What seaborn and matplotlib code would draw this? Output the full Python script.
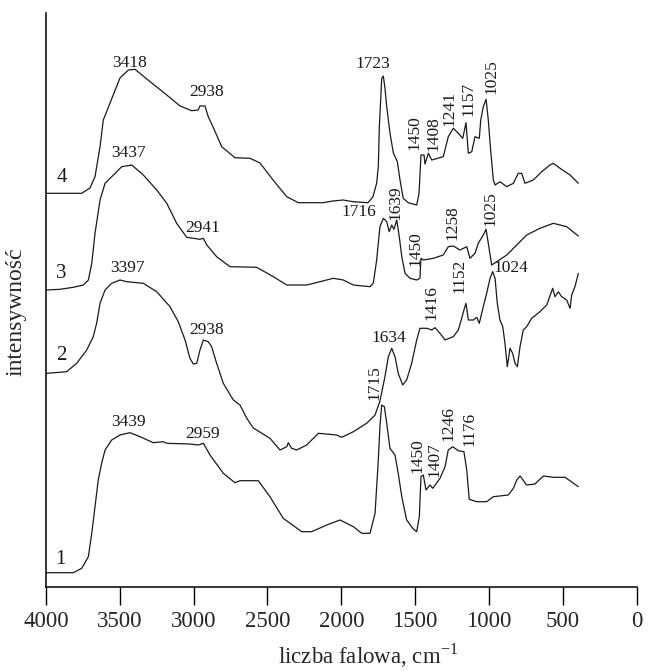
import matplotlib
matplotlib.use("Agg")
import matplotlib.pyplot as plt
import seaborn as sns
import pandas as pd

# ---------------- data (wavenumber cm^-1, intensity in arbitrary units) ----------------
w4 = [3995, 3758, 3702, 3668, 3634, 3612, 3566, 3499, 3442, 3397, 3295, 3182, 3092, 3013, 2970,
      2957, 2923, 2901, 2869, 2810, 2720, 2618, 2550, 2462, 2369, 2291, 2124, 2056, 1988, 1920,
      1819, 1785, 1760, 1749, 1742, 1733, 1726, 1715, 1704, 1692, 1670, 1647, 1620, 1602, 1580,
      1546, 1489, 1473, 1460, 1439, 1433, 1410, 1387, 1309, 1275, 1241, 1207, 1177, 1155, 1139,
      1116, 1094, 1065, 1055, 1038, 1019, 1004, 988, 970, 958, 925, 879, 834, 801, 778, 755, 699,
      642, 586, 563, 518, 450, 394]
i4 = [393.7, 393.7, 399, 410.3, 440.3, 467, 484, 509, 517, 517.7, 505.3, 492, 481, 476.3, 477,
      481, 481, 470.3, 460.3, 440.3, 429.3, 428.7, 424, 407, 390.3, 384.3, 384.3, 386, 387, 385.3,
      384.3, 390.3, 404, 420.3, 460.3, 487, 508.7, 511, 499, 480.3, 454, 434, 425.3, 407, 388.7,
      384.3, 382, 393.7, 432, 432, 423, 433.7, 427, 430.3, 450.3, 458.7, 453.7, 448.7, 464.3, 433.7,
      435.3, 450.3, 448.7, 467, 480.3, 487.7, 467, 437, 407, 402, 405.3, 400.3, 403.7, 413.7, 413.7,
      403.7, 407, 415.3, 422, 423.7, 418.7, 412, 403.7]

w3 = [3995, 3905, 3815, 3747, 3713, 3690, 3668, 3634, 3600, 3555, 3487, 3419, 3341, 3250, 3182,
      3115, 3047, 2957, 2934, 2911, 2844, 2754, 2573, 2460, 2369, 2234, 2144, 2054, 1986, 1918,
      1805, 1783, 1760, 1738, 1715, 1692, 1675, 1658, 1643, 1624, 1607, 1590, 1568, 1534, 1489,
      1467, 1460, 1444, 1376, 1309, 1275, 1241, 1196, 1150, 1128, 1094, 1072, 1038, 1019, 1004,
      981, 879, 811, 744, 654, 563, 473, 394]
i3 = [297, 297.7, 299.7, 302, 307, 323.7, 353.7, 387, 403.7, 410.3, 420.3, 422, 412, 397, 383.7,
      363.7, 349.7, 347.7, 348.7, 342, 330.3, 320.3, 319.7, 310.3, 302, 302, 305.3, 308.7, 307, 302,
      300.3, 303.7, 327, 360.3, 368.7, 365.3, 355.3, 362, 357.7, 367, 350.3, 330.3, 313.7, 308.7, 307,
      308.7, 328.7, 327, 328.7, 332, 340.3, 341, 337, 340.3, 328.7, 333.7, 343.7, 352, 357.7, 343.7,
      322, 332, 342, 352, 358.7, 363.7, 360.3, 351]

w2 = [3995, 3860, 3792, 3724, 3680, 3657, 3634, 3600, 3555, 3499, 3453, 3341, 3250, 3160, 3104,
      3058, 3025, 3002, 2979, 2957, 2934, 2901, 2878, 2844, 2799, 2731, 2686, 2640, 2596, 2483,
      2415, 2369, 2359, 2336, 2302, 2234, 2155, 2031, 1997, 1918, 1828, 1771, 1738, 1704, 1681,
      1658, 1636, 1614, 1584, 1557, 1523, 1489, 1467, 1421, 1387, 1365, 1331, 1297, 1241, 1207,
      1184, 1169, 1155, 1139, 1105, 1082, 1065, 1038, 1015, 992, 974, 958, 943, 925, 906, 891, 875,
      857, 839, 823, 807, 789, 767, 744, 710, 654, 608, 568, 552, 530, 507, 473, 450, 439, 417, 405,
      394]
i2 = [213.7, 215.3, 223.7, 237, 250.3, 263.7, 283.7, 297, 303.7, 307, 305.3, 303.7, 295.3, 280.3,
      265.3, 247, 228.7, 223, 223.7, 237, 247, 245.3, 240.3, 223.7, 203.7, 187, 182, 168.7, 159,
      148.7, 137, 140.3, 144.3, 138.7, 137, 142, 153.7, 152, 149.7, 155.3, 163.7, 172, 186, 210.3,
      230.3, 238.7, 230.3, 213.7, 202, 207, 223.7, 247, 258.7, 258.7, 257, 259.3, 253.7, 247, 250.3,
      257, 268.7, 277, 283.7, 267, 267, 269.7, 263.7, 280.3, 293.7, 308.7, 315.3, 308.7, 283.7, 267,
      260.3, 243.7, 220.3, 238.7, 233.7, 223.7, 220.3, 240.3, 257, 260.3, 268.7, 275.3, 282, 298.7,
      290.3, 295.3, 290.3, 287, 278.7, 292, 300.3, 307, 313.7]

w1 = [3995, 3815, 3758, 3713, 3690, 3668, 3646, 3623, 3600, 3555, 3499, 3431, 3363, 3273, 3205,
      3182, 3025, 2968, 2934, 2889, 2799, 2720, 2686, 2562, 2483, 2393, 2268, 2200, 2099, 2008,
      1918, 1861, 1805, 1771, 1749, 1738, 1726, 1708, 1692, 1670, 1636, 1614, 1590, 1557, 1516,
      1489, 1471, 1460, 1444, 1426, 1399, 1380, 1331, 1297, 1275, 1245, 1207, 1169, 1150, 1133,
      1082, 1015, 970, 868, 834, 811, 789, 744, 688, 631, 563, 484, 394]
i1 = [14.3, 14.3, 18.7, 30.3, 53.7, 80.3, 107, 123.7, 137, 147, 152, 154.3, 150.3, 144.3, 145.3,
      143.7, 143, 142, 143.7, 132, 113.7, 104.3, 106.3, 106.3, 90.3, 68.7, 55.3, 55.3, 62, 67, 60.3,
      53.7, 53.7, 73.7, 127, 160.3, 182, 180.3, 163.7, 138.7, 132, 113.7, 90.3, 67, 58.7, 55.3, 70.3,
      110.3, 112, 97, 102, 98.7, 108.7, 120.3, 137, 140.3, 136.3, 135.3, 117, 87.7, 85.3, 85.3, 90.3,
      92, 98.7, 107, 111, 102, 103, 111, 109.7, 109.7, 100.3]

series_names = ["1", "2", "3", "4"]
series_w = [w1, w2, w3, w4]
series_i = [i1, i2, i3, i4]

x_ticks = [4000, 3500, 3000, 2500, 2000, 1500, 1000, 500, 0]
x_label = "liczba falowa, cm$^{\\mathregular{-1}}$"
y_label = "intensywność"

# peak annotations: (text, wavenumber position, intensity position, rotation)
peak_labels = [
    ("3418", 3431, 524, 0), ("2938", 2911, 495, 0), ("1723", 1783, 523, 0),
    ("1450", 1507, 454.5, 90), ("1408", 1374, 453.7, 90), ("1241", 1269, 478, 90),
    ("1157", 1135, 488, 90), ("1025", 981, 510.3, 90),
    ("3437", 3438, 434, 0), ("2941", 2937, 359, 0), ("1716", 1880, 374.5, 0),
    ("1639", 1632, 384.5, 90), ("1450", 1500, 338, 90), ("1258", 1245, 364.5, 90),
    ("1025", 990, 378.7, 90),
    ("3397", 3445, 319, 0), ("2938", 2911, 257.3, 0), ("1634", 1679, 249.5, 0),
    ("1416", 1387, 284.5, 90), ("1152", 1196, 311.2, 90), ("1024", 851, 319.5, 0),
    ("3439", 3442, 165.3, 0), ("2959", 2940, 153.3, 0), ("1715", 1775, 204.5, 90),
    ("1450", 1485, 131.2, 90), ("1407", 1372, 127.7, 90), ("1246", 1271, 163, 90),
    ("1176", 1130, 158, 90),
]
# curve numbers: (text, wavenumber position, intensity position)
curve_labels = [("4", 3894, 409), ("3", 3894, 313), ("2", 3894, 231), ("1", 3905, 27)]

# ---------------- build the long table ----------------
rows = []
for name, ws, ins in zip(series_names, series_w, series_i):
    for w, v in zip(ws, ins):
        rows.append({"wavenumber": w, "intensity": v, "trace": name})
df = pd.DataFrame(rows)

sns.set_style("white")
plt.rcParams["font.family"] = ["Liberation Serif", "DejaVu Serif"]
plt.rcParams["mathtext.fontset"] = "custom"
plt.rcParams["mathtext.rm"] = "Liberation Serif"

fig = plt.figure(figsize=(6.49, 6.71), dpi=100)
ax = fig.add_axes([46 / 649, 1 - 587 / 671, 590.5 / 649, 574 / 671])

sns.lineplot(data=df, x="wavenumber", y="intensity", hue="trace", units="trace",
             estimator=None, sort=False, palette=["#1a1a1a"] * 4, linewidth=0.9,
             legend=False, ax=ax)

ax.set_xlim(4000, 0)
ax.set_ylim(0, 574)
ax.set_xticks(x_ticks)
ax.set_xticklabels([str(t) for t in x_ticks])
ax.set_yticks([])
ax.tick_params(axis="x", direction="out", length=13, width=1, color="black",
               labelsize=16.5, pad=4, bottom=True)
for s in ["top", "right"]:
    ax.spines[s].set_visible(False)
for s in ["left", "bottom"]:
    ax.spines[s].set_color("black")
    ax.spines[s].set_linewidth(1.1)
ax.set_xlabel("")
ax.set_ylabel("")

# axis titles placed as in the reference
fig.text(368 / 649, 1 - 670 / 671, x_label, ha="center", va="bottom", fontsize=16.5)
fig.text(16 / 649, 1 - 312 / 671, y_label, ha="center", va="center", rotation=90, fontsize=17)

for txt, x, y, rot in peak_labels:
    ax.text(x, y, txt, rotation=rot, ha="center", va="center", fontsize=12.5, color="#1a1a1a")
for txt, x, y in curve_labels:
    ax.text(x, y, txt, ha="center", va="center", fontsize=15, color="#1a1a1a")

fig.savefig("out.png", dpi=100)
